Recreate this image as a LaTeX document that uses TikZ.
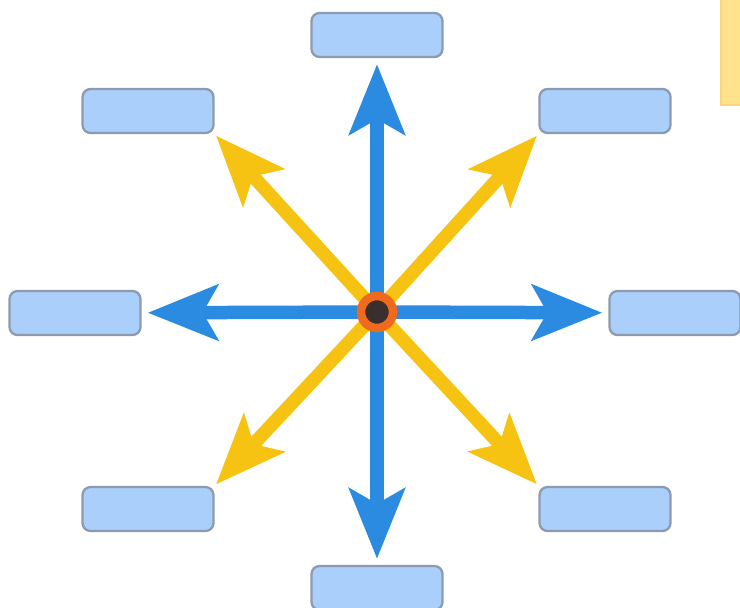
\documentclass[tikz,border=0pt]{standalone}
\usepackage{xcolor}
\usetikzlibrary{arrows.meta}
\definecolor{boxblue}{HTML}{A9CFFA}
\definecolor{boxgray}{HTML}{8C9BB0}
\definecolor{arrblue}{HTML}{2B8BE0}
\definecolor{arryellow}{HTML}{F7C312}
\definecolor{ringorange}{HTML}{F06A1E}
\definecolor{hubdark}{HTML}{3B2E2E}
\definecolor{noteyellow}{HTML}{FFE28C}

\begin{document}
\begin{tikzpicture}[x=0.02cm,y=-0.02cm,
  lbl/.style={draw=boxgray,line width=1.3pt,fill=boxblue,rounded corners=0.16cm,
    minimum width=2.62cm,minimum height=0.88cm,inner sep=0pt},
  blu/.style={draw=arrblue,line width=0.27cm,
    -{Stealth[length=1.4cm,width=1.1cm,inset=0.3cm]},shorten >=0.12cm},
  yel/.style={blu,draw=arryellow,shorten >=0.04cm}]
\fill[white] (0,0) rectangle (740,608);
\useasboundingbox (0,0) rectangle (740,608);
% note box, cut off at the edge
\filldraw[fill=noteyellow,draw=noteyellow!85!orange,line width=0.8pt] (721,-2) rectangle (744,105);
% label boxes
\node[lbl] (n) at (377,35) {};
\node[lbl] (nw) at (148,111) {};
\node[lbl] (ne) at (605,111) {};
\node[lbl] (w) at (75,313) {};
\node[lbl] (e) at (675,313) {};
\node[lbl] (sw) at (148,509) {};
\node[lbl] (se) at (605,509) {};
\node[lbl] (s) at (377,588) {};
\coordinate (c) at (377,312);
% diagonal arrows
\draw[yel] (c) -- (nw.south east);
\draw[yel] (c) -- (ne.south west);
\draw[yel] (c) -- (sw.north east);
\draw[yel] (c) -- (se.north west);
% straight arrows
\draw[blu] (c) -- (n);
\draw[blu] (c) -- (s);
\draw[blu] (c) -- (w);
\draw[blu] (c) -- (e);
% hub
\node[circle,fill=hubdark,draw=ringorange,line width=0.17cm,minimum size=0.64cm,inner sep=0pt] (hub) at (c) {};
\end{tikzpicture}
\end{document}
